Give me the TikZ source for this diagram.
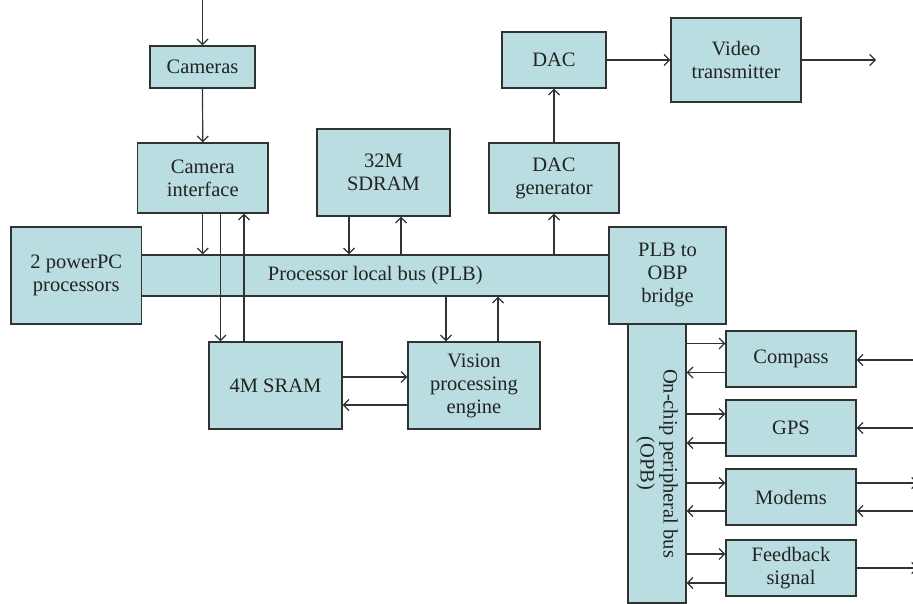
\documentclass[tikz,border=0pt]{standalone}
\usepackage{fontspec}
\setmainfont{Liberation Serif}
\usetikzlibrary{arrows.meta}
\definecolor{boxfill}{RGB}{185,221,224}
\definecolor{boxline}{RGB}{50,50,50}
\definecolor{txt}{RGB}{35,35,35}
\tikzset{
  blk/.style={draw=boxline, fill=boxfill, line width=1.3pt, align=center, inner sep=0pt,
    text=txt, font=\fontsize{20.5}{23}\selectfont},
  arr/.style={draw=boxline, line width=1.2pt, -{Straight Barb[length=5.5pt,width=11pt,line width=1.2pt]}},
}
\begin{document}
\begin{tikzpicture}[x=1pt,y=-1pt]
\useasboundingbox (0,0) rectangle (913,604);
% bus first
\node[blk, minimum width=467.5pt, minimum height=41pt] (plb) at (375.25,275.5) {Processor local bus (PLB)};
\node[blk, minimum width=130.5pt, minimum height=97pt] (ppc) at (76.25,275.5) {2 powerPC\\processors};
\node[blk, minimum width=117pt, minimum height=97pt] (bridge) at (667.5,275.5) {PLB to\\OBP\\bridge};
\node[blk, minimum width=105pt, minimum height=42pt] (cam) at (202.5,67) {Cameras};
\node[blk, minimum width=130.5pt, minimum height=70pt] (camif) at (202.75,178) {Camera\\interface};
\node[blk, minimum width=133pt, minimum height=87pt] (sdram) at (383.5,172.5) {32M\\SDRAM};
\node[blk, minimum width=130pt, minimum height=70pt] (dacgen) at (554,178) {DAC\\generator};
\node[blk, minimum width=104pt, minimum height=56pt] (dac) at (554,60) {DAC};
\node[blk, minimum width=130pt, minimum height=84pt] (video) at (736,60) {Video\\transmitter};
\node[blk, minimum width=133pt, minimum height=87pt] (sram) at (275.5,385.5) {4M SRAM};
\node[blk, minimum width=132pt, minimum height=87pt] (vpe) at (474,385.5) {Vision\\processing\\engine};
\node[blk, minimum width=58pt, minimum height=279pt] (opb) at (657,463.5) {};
\node[text=txt, font=\fontsize{20.5}{23}\selectfont, align=center, rotate=-90] (opbtxt) at (opb.center) {On-chip peripheral bus\\(OPB)};
\node[blk, minimum width=130pt, minimum height=56pt] (compass) at (791,359) {Compass};
\node[blk, minimum width=130pt, minimum height=56pt] (gps) at (791,428) {GPS};
\node[blk, minimum width=130pt, minimum height=56pt] (modems) at (791,497) {Modems};
\node[blk, minimum width=130pt, minimum height=56pt] (feedback) at (791,568) {Feedback\\signal};
% free ends
\coordinate (camin) at (202.5,0);
\coordinate (vidout) at (876,60);
\coordinate (compin) at (913,360);
\coordinate (gpsin) at (913,428);
\coordinate (modout) at (918,483);
\coordinate (modin) at (913,511);
\coordinate (fbout) at (918,568);
% connectors
\draw[arr] (camin) -- (cam.north);
\draw[arr] (cam.south) -- (camif.north);
\draw[arr] (camif.south) -- (camif.south |- plb.north);
\draw[arr] ([xshift=17.75pt]camif.south) -- ([xshift=17.75pt]camif.south |- sram.north);
\draw[arr] ([xshift=41.25pt]camif.south |- sram.north) -- ([xshift=41.25pt]camif.south);
\draw[arr] ([xshift=-34.5pt]sdram.south) -- ([xshift=-34.5pt]sdram.south |- plb.north);
\draw[arr] ([xshift=17.5pt]sdram.south |- plb.north) -- ([xshift=17.5pt]sdram.south);
\draw[arr] (dacgen.south |- plb.north) -- (dacgen.south);
\draw[arr] (dacgen.north) -- (dac.south);
\draw[arr] (dac.east) -- (video.west);
\draw[arr] (video.east) -- (vidout);
\draw[arr] ([xshift=-28pt]vpe.north |- plb.south) -- ([xshift=-28pt]vpe.north);
\draw[arr] ([xshift=24pt]vpe.north) -- ([xshift=24pt]vpe.north |- plb.south);
\draw[arr] ([yshift=8.5pt]sram.east) -- ([yshift=8.5pt]sram.east -| vpe.west);
\draw[arr] ([yshift=-19.5pt]sram.east -| vpe.west) -- ([yshift=-19.5pt]sram.east);
% OPB peripherals
\foreach \n/\a/\b in {compass/15.5/-13.5, gps/14/-15, modems/14/-14, feedback/14/-15}{
  \draw[arr] ([yshift=\a pt]\n.west -| opb.east) -- ([yshift=\a pt]\n.west);
  \draw[arr] ([yshift=\b pt]\n.west) -- ([yshift=\b pt]\n.west -| opb.east);
}
\draw[arr] (compin) -- (compin -| compass.east);
\draw[arr] (gpsin) -- (gpsin -| gps.east);
\draw[arr] (modout -| modems.east) -- (modout);
\draw[arr] (modin) -- (modin -| modems.east);
\draw[arr] (fbout -| feedback.east) -- (fbout);
\end{tikzpicture}
\end{document}
